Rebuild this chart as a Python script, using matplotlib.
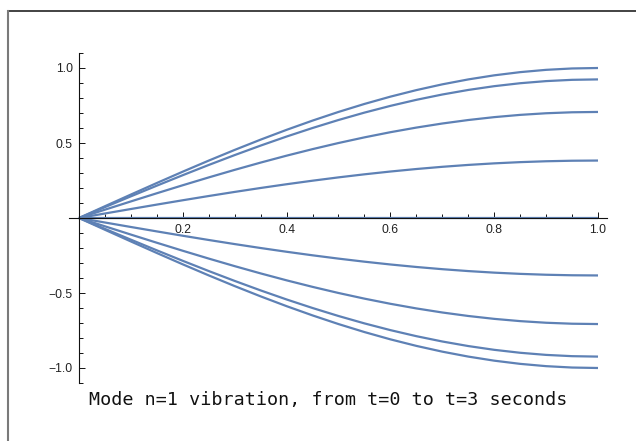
import matplotlib
matplotlib.use("Agg")
import matplotlib.pyplot as plt
from matplotlib.lines import Line2D
from matplotlib.ticker import MultipleLocator, FixedLocator, FuncFormatter

# Positions along the string (x) and the mode shape
x_pos = [0.0, 0.05, 0.1, 0.15, 0.2, 0.25, 0.3, 0.35, 0.4, 0.45, 0.5,
         0.55, 0.6, 0.65, 0.7, 0.75, 0.8, 0.85, 0.9, 0.95, 1.0]
shape = [0.0, 0.0785, 0.1564, 0.2334, 0.3090, 0.3827, 0.4540, 0.5225, 0.5878, 0.6494, 0.7071,
         0.7604, 0.8090, 0.8526, 0.8910, 0.9239, 0.9511, 0.9724, 0.9877, 0.9969, 1.0]
# Amplitude of each snapshot (value at x = 1)
amplitudes = [1.0, 0.924, 0.707, 0.383, 0.0, -0.383, -0.707, -0.924, -1.0]

xticks = [0.2, 0.4, 0.6, 0.8, 1.0]
yticks = [-1.0, -0.5, 0.5, 1.0]
caption = "Mode n=1 vibration, from t=0 to t=3 seconds"

W, H = 636, 441
fig = plt.figure(figsize=(W / 100, H / 100), dpi=100)

# axes placement in pixels: x=0 -> 79, x=1 -> 598 ; y=0 -> 218 (from top), y=1 -> 68
sx, sy = 519.0, 150.0
x0p, y0p = 79.0, 218.0
xlo, xhi = -0.03, 1.03
ylo, yhi = -1.12, 1.12
left = x0p + xlo * sx
width = (xhi - xlo) * sx
top = y0p - yhi * sy
height = (yhi - ylo) * sy
ax = fig.add_axes([left / W, 1 - (top + height) / H, width / W, height / H])
ax.set_xlim(xlo, xhi)
ax.set_ylim(ylo, yhi)
ax.patch.set_alpha(0)

color = "#5E81B5"
for a in amplitudes:
    ax.plot(x_pos, [a * s for s in shape], color=color, lw=1.6,
            solid_capstyle="butt", zorder=2)

for s in ["top", "right"]:
    ax.spines[s].set_visible(False)
ax.spines["left"].set_position(("data", 0))
ax.spines["bottom"].set_position(("data", 0))
ax.spines["left"].set_bounds(-1.1, 1.1)
ax.spines["bottom"].set_bounds(-0.02, 1.017)
for s in ["left", "bottom"]:
    ax.spines[s].set_linewidth(0.8)
    ax.spines[s].set_color("#111111")
    ax.spines[s].set_zorder(3)

ax.xaxis.set_major_locator(FixedLocator(xticks))
ax.xaxis.set_minor_locator(MultipleLocator(0.05))
ax.yaxis.set_major_locator(FixedLocator(yticks))
ax.yaxis.set_minor_locator(MultipleLocator(0.1))
fmt = FuncFormatter(lambda v, p: ("\u2212" if v < 0 else "") + f"{abs(v):.1f}")
ax.xaxis.set_major_formatter(fmt)
ax.yaxis.set_major_formatter(fmt)

ax.tick_params(which="both", direction="in", colors="#111111", width=0.7,
               labelsize=8.7, labelcolor="#222222")
ax.tick_params(which="major", length=4.3)
ax.tick_params(which="minor", length=2.6)
ax.tick_params(axis="x", which="major", pad=4)
ax.tick_params(axis="y", which="major", pad=4.5)
for lab in ax.get_xticklabels() + ax.get_yticklabels():
    lab.set_family("Liberation Sans")

# frame lines of the outer panel
fig.add_artist(Line2D([8 / W, 1.0], [1 - 11 / H, 1 - 11 / H],
                      transform=fig.transFigure, color="#222222", lw=1.2))
fig.add_artist(Line2D([8 / W, 8 / W], [1 - 11 / H, 0.0],
                      transform=fig.transFigure, color="#7a7a7a", lw=1.5))

fig.text(328 / W, 1 - 400 / H, caption, ha="center", va="center",
         family="DejaVu Sans Mono", fontsize=13.2, color="#111111")

fig.savefig("out.png", dpi=100)
